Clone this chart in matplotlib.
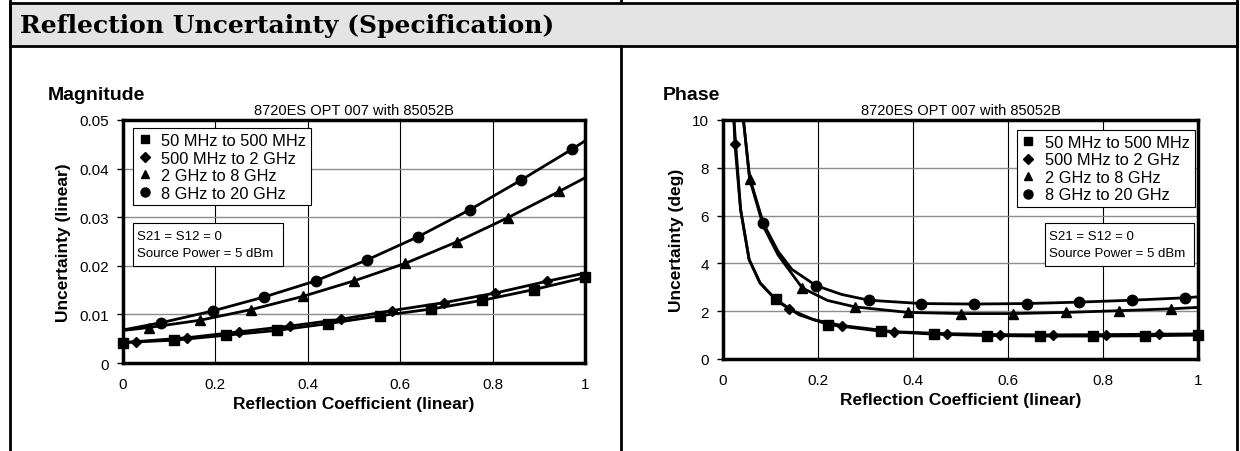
import matplotlib
matplotlib.use("Agg")
import matplotlib.pyplot as plt
from matplotlib.lines import Line2D
from matplotlib.patches import Rectangle

# ── Data ─────────────────────────────────────────────────────────────────────

SERIES = ["50 MHz to 500 MHz", "500 MHz to 2 GHz", "2 GHz to 8 GHz", "8 GHz to 20 GHz"]
MARKERS = ["s", "D", "^", "o"]

# Magnitude panel: marker points
mag_sq_x = [0.0, 0.111, 0.222, 0.333, 0.444, 0.556, 0.667, 0.778, 0.889, 1.0]
mag_sq_y = [0.0042, 0.0047, 0.0057, 0.0067, 0.0081, 0.0097, 0.0111, 0.0129, 0.0151, 0.0176]
mag_di_x = [0.028, 0.139, 0.25, 0.361, 0.472, 0.583, 0.694, 0.806, 0.917]
mag_di_y = [0.0044, 0.0052, 0.0064, 0.0076, 0.0090, 0.0108, 0.0124, 0.0144, 0.0168]
mag_tr_x = [0.056, 0.167, 0.278, 0.389, 0.5, 0.611, 0.722, 0.833, 0.944]
mag_tr_y = [0.0073, 0.0088, 0.0110, 0.0137, 0.0169, 0.0205, 0.0249, 0.0299, 0.0353]
mag_ci_x = [0.083, 0.194, 0.306, 0.417, 0.528, 0.639, 0.75, 0.861, 0.972]
mag_ci_y = [0.0083, 0.0107, 0.0136, 0.0169, 0.0212, 0.0260, 0.0315, 0.0376, 0.0440]

# Magnitude panel: curve points (lines run 0 -> 1)
mag_sq_cx = [0.0, 0.111, 0.222, 0.333, 0.444, 0.556, 0.667, 0.778, 0.889, 1.0]
mag_sq_cy = [0.0042, 0.0047, 0.0057, 0.0067, 0.0081, 0.0097, 0.0111, 0.0129, 0.0151, 0.0176]
mag_di_cx = [0.0, 0.028, 0.139, 0.25, 0.361, 0.472, 0.583, 0.694, 0.806, 0.917, 1.0]
mag_di_cy = [0.0042, 0.0044, 0.0052, 0.0064, 0.0076, 0.0090, 0.0108, 0.0124, 0.0144, 0.0168, 0.0185]
mag_tr_cx = [0.0, 0.056, 0.167, 0.278, 0.389, 0.5, 0.611, 0.722, 0.833, 0.944, 1.0]
mag_tr_cy = [0.0067, 0.0073, 0.0088, 0.0110, 0.0137, 0.0169, 0.0205, 0.0249, 0.0299, 0.0353, 0.0381]
mag_ci_cx = [0.0, 0.083, 0.194, 0.306, 0.417, 0.528, 0.639, 0.75, 0.861, 0.972, 1.0]
mag_ci_cy = [0.0068, 0.0083, 0.0107, 0.0136, 0.0169, 0.0212, 0.0260, 0.0315, 0.0376, 0.0440, 0.0457]

# Phase panel: marker points
ph_sq_x = [0.111, 0.222, 0.333, 0.444, 0.556, 0.667, 0.778, 0.889, 1.0]
ph_sq_y = [2.49, 1.44, 1.16, 1.04, 0.98, 0.96, 0.96, 0.97, 1.0]
ph_di_x = [0.025, 0.139, 0.25, 0.361, 0.472, 0.583, 0.694, 0.806, 0.917]
ph_di_y = [9.0, 2.09, 1.40, 1.14, 1.06, 1.02, 1.01, 1.02, 1.04]
ph_tr_x = [0.056, 0.167, 0.278, 0.389, 0.5, 0.611, 0.722, 0.833, 0.944]
ph_tr_y = [7.54, 2.97, 2.18, 1.95, 1.90, 1.90, 1.95, 2.02, 2.10]
ph_ci_x = [0.085, 0.196, 0.307, 0.417, 0.528, 0.639, 0.75, 0.861, 0.972]
ph_ci_y = [5.67, 3.07, 2.46, 2.32, 2.30, 2.32, 2.38, 2.46, 2.56]

# Phase panel: curve points (steep part read separately)
ph_sq_cx = [0.023, 0.037, 0.055, 0.078, 0.111, 0.16, 0.222, 0.333, 0.444, 0.556, 0.667, 0.778, 0.889, 1.0]
ph_sq_cy = [10.0, 6.26, 4.16, 3.18, 2.49, 1.85, 1.44, 1.16, 1.04, 0.98, 0.96, 0.96, 0.97, 1.0]
ph_di_cx = [0.023, 0.025, 0.037, 0.055, 0.078, 0.111, 0.139, 0.19, 0.25, 0.361, 0.472, 0.583, 0.694, 0.806, 0.917, 1.0]
ph_di_cy = [10.0, 9.0, 6.26, 4.16, 3.18, 2.49, 2.09, 1.65, 1.40, 1.14, 1.06, 1.02, 1.01, 1.02, 1.04, 1.05]
ph_tr_cx = [0.043, 0.056, 0.085, 0.116, 0.167, 0.22, 0.278, 0.389, 0.5, 0.611, 0.722, 0.833, 0.944, 1.0]
ph_tr_cy = [10.0, 7.54, 5.55, 4.35, 2.97, 2.45, 2.18, 1.95, 1.90, 1.90, 1.95, 2.02, 2.10, 2.16]
ph_ci_cx = [0.043, 0.056, 0.085, 0.116, 0.145, 0.196, 0.25, 0.307, 0.417, 0.528, 0.639, 0.75, 0.861, 0.972, 1.0]
ph_ci_cy = [10.0, 7.6, 5.67, 4.50, 3.75, 3.07, 2.70, 2.46, 2.32, 2.30, 2.32, 2.38, 2.46, 2.56, 2.60]

MAG_TICKS = [0, 0.01, 0.02, 0.03, 0.04, 0.05]
MAG_TICKLABELS = ["0", "0.01", "0.02", "0.03", "0.04", "0.05"]
PH_TICKS = [0, 2, 4, 6, 8, 10]
X_TICKS = [0, 0.2, 0.4, 0.6, 0.8, 1.0]
X_TICKLABELS = ["0", "0.2", "0.4", "0.6", "0.8", "1"]

SUBTITLE = "8720ES OPT 007 with 85052B"
NOTE = "S21 = S12 = 0\nSource Power = 5 dBm"

# ── Figure ───────────────────────────────────────────────────────────────────

W, H = 1240, 452
plt.rcParams["font.family"] = ["Liberation Sans", "DejaVu Sans"]
fig = plt.figure(figsize=(W / 100, H / 100), dpi=100)


def px(x, y):
    return x / W, 1 - y / H


def vline(x, y0, y1, lw=2.0):
    (fx, fy0), (_, fy1) = px(x, y0), px(x, y1)
    fig.add_artist(Line2D([fx, fx], [fy0, fy1], transform=fig.transFigure,
                          color="black", lw=lw))


# frame and title bar
x0, y0 = px(10, 47)
x1, y1 = px(1237, 4)
fig.add_artist(Rectangle((x0, y0), x1 - x0, y1 - y0, transform=fig.transFigure,
                         facecolor="#e4e4e4", edgecolor="black", lw=2.0))
vline(10, 0, H)
vline(1237, 0, H)
vline(621, 0, 4)
vline(621, 47, H)
tx, ty = px(20, 26)
fig.text(tx, ty, "Reflection Uncertainty (Specification)", family="DejaVu Serif",
         fontweight="bold", fontsize=18, va="center", ha="left")


def panel(rect, title, title_xy, ylabel, ylim, yticks, yticklabels,
          curves, marks, leg_anchor, note_rect):
    ax = fig.add_axes(rect)
    for (cx, cy) in curves:
        ax.plot(cx, cy, color="black", lw=2.0, zorder=3, clip_on=True)
    for (mx, my), m in zip(marks, MARKERS):
        ms = {"s": 7, "D": 5.5, "^": 7.5, "o": 7.5}[m]
        ax.plot(mx, my, linestyle="none", marker=m, color="black", ms=ms,
                zorder=4, clip_on=False)
    ax.set_xlim(0, 1)
    ax.set_ylim(*ylim)
    ax.set_xticks(X_TICKS)
    ax.set_xticklabels(X_TICKLABELS, fontsize=11)
    ax.set_yticks(yticks)
    ax.set_yticklabels(yticklabels, fontsize=11)
    ax.tick_params(axis="x", length=0, pad=10)
    ax.tick_params(axis="y", length=4, width=1, pad=6)
    ax.grid(axis="x", color="black", lw=0.8)
    ax.grid(axis="y", color="#8c8c8c", lw=1.0)
    ax.set_axisbelow(True)
    for s in ax.spines.values():
        s.set_linewidth(2.5)
    ax.set_xlabel("Reflection Coefficient (linear)", fontsize=12.5,
                  fontweight="bold", labelpad=4)
    ax.set_ylabel(ylabel, fontsize=12.5, fontweight="bold", labelpad=6)
    ax.text(0.5, 1.012, SUBTITLE, transform=ax.transAxes, ha="center",
            va="bottom", fontsize=10.5)
    fx, fy = px(*title_xy)
    fig.text(fx, fy, title, fontsize=14, fontweight="bold", ha="left", va="center")

    handles = [Line2D([], [], linestyle="none", marker=m, color="black",
                      ms={"s": 6, "D": 5, "^": 6, "o": 6.5}[m]) for m in MARKERS]
    leg = ax.legend(handles, SERIES, loc="upper left", bbox_to_anchor=leg_anchor,
                    borderaxespad=0, fontsize=11.8, frameon=True, fancybox=False,
                    framealpha=1, edgecolor="black", handlelength=0.8,
                    handletextpad=0.6, borderpad=0.3, labelspacing=0.15)
    leg.get_frame().set_linewidth(0.8)
    leg.set_zorder(6)

    nx, ny, nw, nh = note_rect
    ax.add_patch(Rectangle((nx, ny), nw, nh, transform=ax.transAxes,
                           facecolor="white", edgecolor="black", lw=0.8, zorder=6))
    ax.text(nx + 0.008, ny + nh / 2, NOTE, transform=ax.transAxes, fontsize=9.5,
            va="center", ha="left", linespacing=1.5, zorder=7)
    return ax


panel([123 / W, 1 - 364 / H, 462 / W, 243 / H], "Magnitude", (48, 95),
      "Uncertainty (linear)", (0, 0.05), MAG_TICKS, MAG_TICKLABELS,
      [(mag_sq_cx, mag_sq_cy), (mag_di_cx, mag_di_cy),
       (mag_tr_cx, mag_tr_cy), (mag_ci_cx, mag_ci_cy)],
      [(mag_sq_x, mag_sq_y), (mag_di_x, mag_di_y),
       (mag_tr_x, mag_tr_y), (mag_ci_x, mag_ci_y)],
      (0.022, 0.966), (0.022, 0.40, 0.325, 0.175))

panel([723 / W, 1 - 360 / H, 475 / W, 239 / H], "Phase", (663, 95),
      "Uncertainty (deg)", (0, 10), PH_TICKS, [str(t) for t in PH_TICKS],
      [(ph_sq_cx, ph_sq_cy), (ph_di_cx, ph_di_cy),
       (ph_tr_cx, ph_tr_cy), (ph_ci_cx, ph_ci_cy)],
      [(ph_sq_x, ph_sq_y), (ph_di_x, ph_di_y),
       (ph_tr_x, ph_tr_y), (ph_ci_x, ph_ci_y)],
      (0.619, 0.958), (0.678, 0.39, 0.314, 0.177))

fig.savefig("out.png", dpi=100)
